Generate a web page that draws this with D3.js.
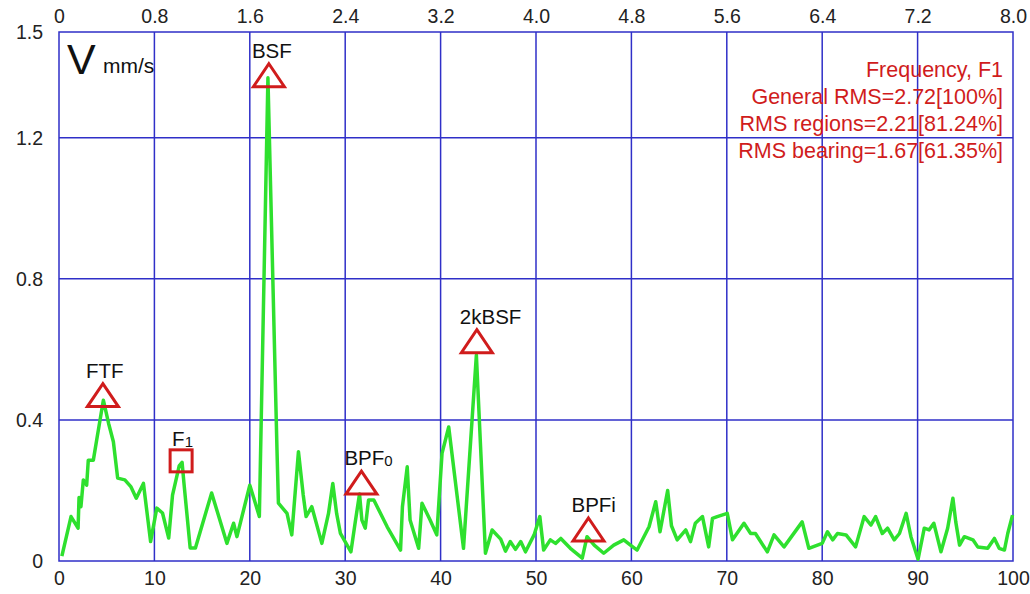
<!DOCTYPE html>
<html>
<head>
<meta charset="utf-8">
<script src="https://cdn.jsdelivr.net/npm/d3@7"></script>
<style>
  body { margin: 0; background: #fff; }
  svg { display: block; font-family: "Liberation Sans", Arial, sans-serif; }
</style>
</head>
<body>
<script>
// spectrum (bottom axis = frequency order, value = mm/s)
const freq = [0.3, 1.26, 2.0, 2.1, 2.3, 2.55, 2.9, 3.07, 3.6, 3.95, 4.65, 5.2, 5.7, 6.15, 6.9, 7.55, 8.1, 8.85, 9.6,
  10.25, 10.85, 11.5, 11.9, 12.6, 12.9, 13.1, 13.75, 14.3, 16.0, 17.6, 18.3, 18.65, 20.0, 20.4, 21.0, 21.9, 22.85, 23.0,
  23.9, 24.4, 25.1, 25.6, 25.9, 26.5, 27.55, 28.25, 28.7, 29.1, 29.5, 30.6, 31.05, 31.5, 31.75, 32.1, 32.45, 33.0,
  34.4, 35.8, 36.0, 36.5, 36.8, 37.7, 38.05, 38.9, 39.6, 40.15, 40.85, 42.4, 43.75, 44.7, 45.4, 46.3, 46.8, 47.3,
  47.85, 48.4, 48.9, 49.8, 50.4, 50.8, 51.5, 52.05, 52.6, 53.6, 54.85, 55.35, 56.1, 57.1, 58.15, 59.2, 59.9, 60.6,
  61.85, 62.55, 63.0, 63.8, 64.2, 64.8, 65.7, 66.2, 66.7, 67.45, 68.1, 68.5, 69.0, 70.05, 70.6, 71.8, 72.5, 73.0,
  74.25, 74.95, 76.0, 77.9, 78.6, 80.0, 80.55, 81.1, 81.6, 82.5, 83.5, 84.4, 85.1, 85.6, 86.3, 86.85, 87.55, 88.1,
  88.8, 89.3, 90.05, 90.7, 91.2, 91.7, 92.45, 93.15, 93.7, 94.0, 94.4, 94.9, 95.8, 96.3, 97.35, 98.05, 98.55, 99.1,
  99.45, 99.95];
const amp = [0.014, 0.126, 0.093, 0.18, 0.154, 0.23, 0.215, 0.286, 0.286, 0.343, 0.456, 0.39, 0.338, 0.235, 0.23, 0.21, 0.178, 0.22, 0.055,
  0.15, 0.136, 0.065, 0.187, 0.27, 0.28, 0.22, 0.037, 0.037, 0.193, 0.05, 0.107, 0.069, 0.215, 0.18, 0.126, 1.37, 0.315, 0.164,
  0.135, 0.074, 0.31, 0.187, 0.126, 0.154, 0.05, 0.135, 0.22, 0.135, 0.078, 0.026, 0.11, 0.19, 0.116, 0.093, 0.173, 0.173,
  0.097, 0.031, 0.154, 0.267, 0.116, 0.036, 0.164, 0.116, 0.074, 0.305, 0.38, 0.036, 0.584, 0.022, 0.088, 0.062, 0.028, 0.055,
  0.033, 0.055, 0.026, 0.074, 0.126, 0.031, 0.06, 0.05, 0.064, 0.036, 0.008, 0.069, 0.045, 0.022, 0.045, 0.06, 0.045, 0.031,
  0.097, 0.168, 0.083, 0.2, 0.1, 0.06, 0.088, 0.055, 0.107, 0.126, 0.04, 0.121, 0.126, 0.135, 0.06, 0.107, 0.078, 0.078,
  0.026, 0.074, 0.04, 0.111, 0.036, 0.05, 0.083, 0.06, 0.078, 0.074, 0.04, 0.126, 0.102, 0.126, 0.078, 0.093, 0.06, 0.078,
  0.135, 0.069, 0.005, 0.093, 0.088, 0.107, 0.026, 0.093, 0.178, 0.111, 0.045, 0.069, 0.06, 0.04, 0.036, 0.064, 0.036, 0.031,
  0.078, 0.13];

// markers
const markerNames = ["FTF", "F", "BSF", "BPF", "2kBSF", "BPFi"];
const markerSubs = ["", "1", "", "0", "", ""];
const markerFreq = [4.6, 12.8, 22.0, 31.7, 43.8, 55.5];
const markerLevel = [0.469, 0.284, 1.376, 0.221, 0.622, 0.088];
const markerShape = ["tri", "square", "tri", "tri", "tri", "tri"];

const yTicks = [0, 0.4, 0.8, 1.2, 1.5];
const xTicks = [0, 10, 20, 30, 40, 50, 60, 70, 80, 90, 100];
const topTicks = [0, 0.8, 1.6, 2.4, 3.2, 4.0, 4.8, 5.6, 6.4, 7.2, 8.0];
const infoLines = ["Frequency, F1", "General RMS=2.72[100%]", "RMS regions=2.21[81.24%]", "RMS bearing=1.67[61.35%]"];

const width = 1030;
const height = 594;
const blue = "#2f2fc8";
const red = "#d01c1c";
const green = "#2ee02e";

const svg = d3.select("body").append("svg").attr("width", width).attr("height", height);

const x = d3.scaleLinear().domain([0, 100]).range([59, 1013]);
const xTop = d3.scaleLinear().domain([0, 8]).range([59, 1013]);
const y = d3.scaleLinear().domain([0, 1.5]).range([561, 32]);

// grid
svg.append("g").selectAll("line").data(xTicks.slice(1, -1)).enter().append("line")
  .attr("x1", d => x(d)).attr("x2", d => x(d)).attr("y1", y(1.5)).attr("y2", y(0))
  .attr("stroke", blue).attr("stroke-width", 1.5);
svg.append("g").selectAll("line").data(yTicks.slice(1, -1)).enter().append("line")
  .attr("x1", x(0)).attr("x2", x(100)).attr("y1", d => y(d)).attr("y2", d => y(d))
  .attr("stroke", blue).attr("stroke-width", 1.5);
svg.append("rect")
  .attr("x", x(0)).attr("y", y(1.5)).attr("width", x(100) - x(0)).attr("height", y(0) - y(1.5))
  .attr("fill", "none").attr("stroke", blue).attr("stroke-width", 1.5);

// axes (labels only)
const fmt = d => d === 0 ? "0" : d3.format(".1f")(d);
const styleAxis = g => {
  g.select(".domain").remove();
  g.selectAll("text").attr("font-size", 19.5).attr("fill", "#222")
    .attr("font-family", "'Liberation Sans', Arial, sans-serif");
};
svg.append("g").attr("transform", "translate(0," + y(0) + ")")
  .call(d3.axisBottom(x).tickValues(xTicks).tickSize(0).tickPadding(10).tickFormat(d3.format("d")))
  .call(styleAxis);
svg.append("g").attr("transform", "translate(0," + y(1.5) + ")")
  .call(d3.axisTop(xTop).tickValues(topTicks).tickSize(0).tickPadding(9).tickFormat(fmt))
  .call(styleAxis);
svg.append("g").attr("transform", "translate(" + x(0) + ",0)")
  .call(d3.axisLeft(y).tickValues(yTicks).tickSize(0).tickPadding(16).tickFormat(fmt))
  .call(styleAxis);

// unit label
svg.append("text").attr("x", 67).attr("y", 74).attr("font-size", 43).attr("fill", "#111").text("V");
svg.append("text").attr("x", 103).attr("y", 73).attr("font-size", 21).attr("fill", "#111").text("mm/s");

// spectrum line
const pts = freq.map((f, i) => ({ f: f, v: amp[i] }));
const line = d3.line().x(d => x(d.f)).y(d => y(d.v));
svg.append("path").datum(pts)
  .attr("fill", "none").attr("stroke", green).attr("stroke-width", 3.5)
  .attr("stroke-linejoin", "round").attr("d", line);

// markers
const mk = markerNames.map((n, i) => ({ name: n, sub: markerSubs[i], f: markerFreq[i], v: markerLevel[i], shape: markerShape[i] }));
const mg = svg.append("g").selectAll("g").data(mk).enter().append("g")
  .attr("transform", d => "translate(" + x(d.f) + "," + y(d.v) + ")");
mg.filter(d => d.shape === "tri").append("path")
  .attr("d", "M0,-12 L15.5,11 L-15.5,11 Z")
  .attr("fill", "none").attr("stroke", red).attr("stroke-width", 3).attr("stroke-linejoin", "miter");
mg.filter(d => d.shape === "square").append("rect")
  .attr("x", -11).attr("y", -11).attr("width", 22).attr("height", 22)
  .attr("fill", "none").attr("stroke", red).attr("stroke-width", 3);
const lab = mg.append("text")
  .attr("x", d => d.shape === "tri" ? -17 : -9)
  .attr("y", d => d.shape === "tri" ? -18 : -15)
  .attr("font-size", 20.5).attr("fill", "#111");
lab.append("tspan").text(d => d.name);
lab.append("tspan").attr("font-size", 15).attr("dy", 1).text(d => d.sub);

// info text
svg.append("g").selectAll("text").data(infoLines).enter().append("text")
  .attr("x", 1003).attr("y", (d, i) => 77 + i * 27)
  .attr("text-anchor", "end").attr("font-size", 21.5).attr("fill", red).text(d => d);
</script>
</body>
</html>
